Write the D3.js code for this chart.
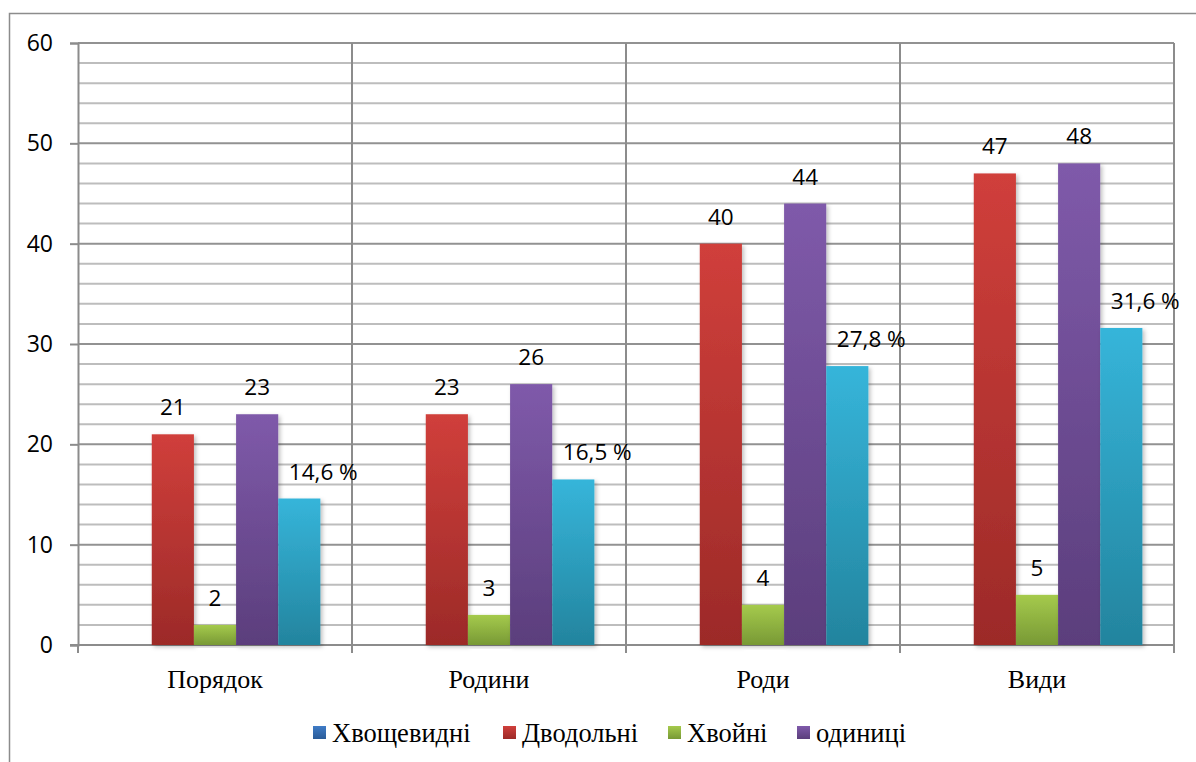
<!DOCTYPE html>
<html>
<head>
<meta charset="utf-8">
<script src="https://cdn.jsdelivr.net/npm/d3@7"></script>
<style>
  html, body { margin: 0; padding: 0; background: #fff; }
  svg { display: block; }
</style>
</head>
<body>
<svg id="chart" width="1196" height="762"></svg>
<script>
// Taxonomic ranks along the x axis
const categories = ["Порядок", "Родини", "Роди", "Види"];

// Series values per rank
const horsetails = [0, 0, 0, 0];          // Хвощевидні
const dicots = [21, 23, 40, 47];           // Дводольні
const conifers = [2, 3, 4, 5];             // Хвойні
const units = [23, 26, 44, 48];            // одиниці
const percentShare = [14.6, 16.5, 27.8, 31.6]; // share, %

const legendNames = ["Хвощевидні", "Дводольні", "Хвойні", "одиниці"];
const yTicks = [0, 10, 20, 30, 40, 50, 60];

const series = [
  { key: "horsetails", values: horsetails, top: "#3f7cc6", bottom: "#2a5b98", fmt: d => String(d) },
  { key: "dicots", values: dicots, top: "#d03f3b", bottom: "#9c2a28", fmt: d => String(d) },
  { key: "conifers", values: conifers, top: "#a5ca4c", bottom: "#789935", fmt: d => String(d) },
  { key: "units", values: units, top: "#7f5aaa", bottom: "#5b3e7c", fmt: d => String(d) },
  { key: "percent", values: percentShare, top: "#36b5da", bottom: "#23849e", fmt: d => String(d).replace(".", ",") + " %", dx: 24 }
];

const svg = d3.select("#chart");
const defs = svg.append("defs");

series.forEach(s => {
  const g = defs.append("linearGradient")
    .attr("id", "grad-" + s.key)
    .attr("x1", 0).attr("y1", 0).attr("x2", 0).attr("y2", 1);
  g.append("stop").attr("offset", "0%").attr("stop-color", s.top);
  g.append("stop").attr("offset", "100%").attr("stop-color", s.bottom);
});

const shadow = defs.append("filter").attr("id", "barShadow")
  .attr("x", "-20%").attr("y", "-5%").attr("width", "150%").attr("height", "115%");
shadow.append("feDropShadow")
  .attr("dx", 2).attr("dy", 2).attr("stdDeviation", 2)
  .attr("flood-color", "#000").attr("flood-opacity", 0.25);

// Outer chart frame
svg.append("path")
  .attr("d", "M9.5,762 L9.5,13.5 L1196,13.5")
  .attr("fill", "none").attr("stroke", "#8c8c8c").attr("stroke-width", 1.5);

const plot = { left: 78, right: 1174, top: 43, bottom: 645 };

const x = d3.scaleBand().domain(categories).range([plot.left, plot.right]).padding(0);
const xInner = d3.scaleBand().domain(series.map(s => s.key))
  .range([0, x.bandwidth()]).paddingInner(0).paddingOuter(0.75);
const y = d3.scaleLinear().domain([0, 60]).range([plot.bottom, plot.top]);

// Minor horizontal gridlines every 2 units
const minor = d3.range(0, 61, 2).filter(v => v % 10 !== 0);
svg.append("g").selectAll("line").data(minor).join("line")
  .attr("x1", plot.left).attr("x2", plot.right)
  .attr("y1", d => y(d)).attr("y2", d => y(d))
  .attr("stroke", "#bdbdbd").attr("stroke-width", 2);

// Major horizontal gridlines
svg.append("g").selectAll("line").data(yTicks.filter(v => v > 0)).join("line")
  .attr("x1", plot.left).attr("x2", plot.right)
  .attr("y1", d => y(d)).attr("y2", d => y(d))
  .attr("stroke", "#929292").attr("stroke-width", 2);

// Vertical gridlines at category boundaries
const bounds = categories.map(c => x(c)).concat([plot.right]);
svg.append("g").selectAll("line").data(bounds.slice(1)).join("line")
  .attr("x1", d => d).attr("x2", d => d)
  .attr("y1", plot.top).attr("y2", plot.bottom)
  .attr("stroke", "#8c8c8c").attr("stroke-width", 2);

// Y axis
const yAxis = svg.append("g")
  .attr("transform", `translate(${plot.left},0)`)
  .call(d3.axisLeft(y).tickValues(yTicks).tickSize(8).tickPadding(17));
yAxis.select(".domain").attr("stroke", "#8c8c8c").attr("stroke-width", 2);
yAxis.selectAll(".tick line").attr("stroke", "#8c8c8c").attr("stroke-width", 2);
yAxis.selectAll(".tick text")
  .attr("font-family", "'Open Sans', sans-serif").attr("font-size", 23).attr("fill", "#000");

// X axis line and boundary ticks
svg.append("line")
  .attr("x1", plot.left - 8).attr("x2", plot.right)
  .attr("y1", plot.bottom).attr("y2", plot.bottom)
  .attr("stroke", "#8c8c8c").attr("stroke-width", 2);
svg.append("g").selectAll("line").data(bounds).join("line")
  .attr("x1", d => d).attr("x2", d => d)
  .attr("y1", plot.bottom).attr("y2", plot.bottom + 8)
  .attr("stroke", "#8c8c8c").attr("stroke-width", 2);

// Category labels
svg.append("g").selectAll("text").data(categories).join("text")
  .attr("x", d => x(d) + x.bandwidth() / 2)
  .attr("y", 688)
  .attr("text-anchor", "middle")
  .attr("font-family", "'Liberation Serif', 'Times New Roman', serif")
  .attr("font-size", 26).attr("fill", "#000")
  .text(d => d);

// Bars
const barLayer = svg.append("g");
series.forEach(s => {
  const g = barLayer.append("g");
  const rows = categories.map((c, i) => ({ c, v: s.values[i] })).filter(d => d.v > 0);
  g.selectAll("rect").data(rows).join("rect")
    .attr("x", d => x(d.c) + xInner(s.key))
    .attr("width", xInner.bandwidth())
    .attr("y", d => y(d.v))
    .attr("height", d => y(0) - y(d.v))
    .attr("fill", `url(#grad-${s.key})`)
    .attr("filter", "url(#barShadow)");
});

// Value labels
const labelLayer = svg.append("g");
series.forEach(s => {
  const rows = categories.map((c, i) => ({ c, v: s.values[i] })).filter(d => d.v > 0);
  labelLayer.append("g").selectAll("text").data(rows).join("text")
    .attr("x", d => x(d.c) + xInner(s.key) + xInner.bandwidth() / 2 + (s.dx || 0))
    .attr("y", d => y(d.v) - 19)
    .attr("text-anchor", "middle")
    .attr("font-family", "'Open Sans', sans-serif")
    .attr("font-size", 22.5).attr("fill", "#000")
    .text(d => s.fmt(d.v));
});

// Legend
const legendX = [313, 503, 668, 797];
const legend = svg.append("g");
legendNames.forEach((name, i) => {
  const s = series[i];
  legend.append("rect")
    .attr("x", legendX[i]).attr("y", 726)
    .attr("width", 13).attr("height", 13)
    .attr("fill", `url(#grad-${s.key})`);
  legend.append("text")
    .attr("x", legendX[i] + 19).attr("y", 742)
    .attr("font-family", "'Liberation Serif', 'Times New Roman', serif")
    .attr("font-size", 26.5).attr("fill", "#000")
    .text(name);
});
</script>
</body>
</html>
